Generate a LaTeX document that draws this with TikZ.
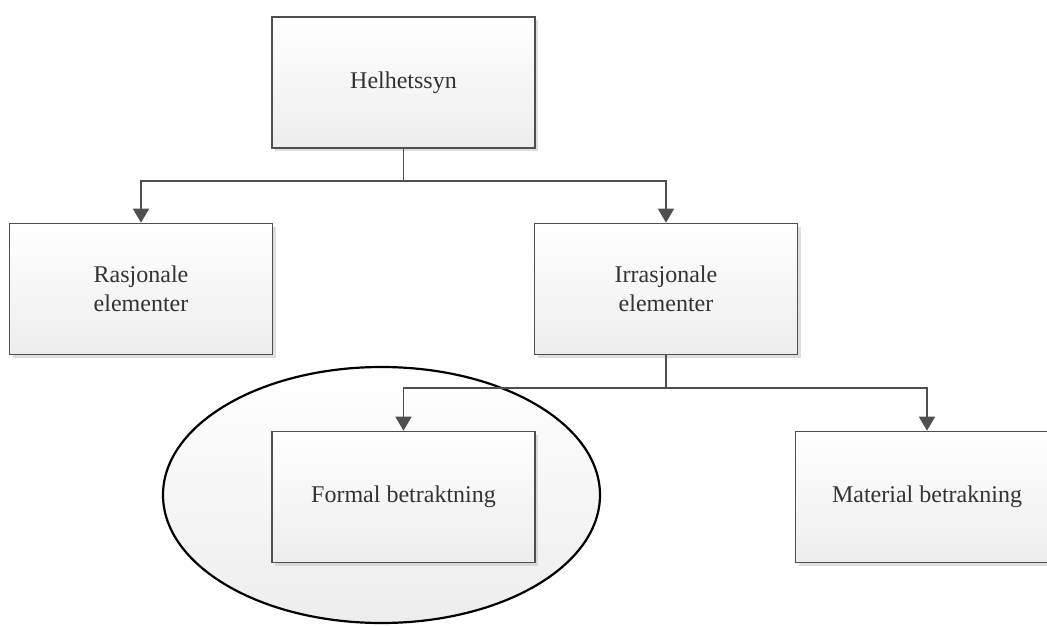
\documentclass[tikz,border=0pt]{standalone}
\usepackage{fontspec}
\setmainfont{Liberation Serif}
\usetikzlibrary{shadows,arrows.meta}
\definecolor{edge}{HTML}{4F4F4F}
\definecolor{boxbot}{HTML}{EDEDED}
\definecolor{shade}{HTML}{C8C8C8}
\tikzset{
  box/.style={draw=edge, line width=1.6pt, top color=white, bottom color=boxbot,
    minimum width=263pt, minimum height=131pt, inner sep=0pt, align=center,
    font=\fontsize{24}{29}\selectfont, text=black!80,
    drop shadow={shadow xshift=3pt, shadow yshift=-3pt, fill=shade, opacity=0.6}},
  conn/.style={draw=edge, line width=1.6pt},
  arr/.style={conn, -{Triangle[length=14pt, width=16pt]}},
  ring/.style={draw=black, line width=2.2pt, top color=white, bottom color=boxbot},
}
\begin{document}
\begin{tikzpicture}[x=1pt, y=-1pt]
\useasboundingbox (0,0) rectangle (1047,626);
\path[ring] (381.5,495) ellipse [x radius=218.5, y radius=128];
\node[box] (top) at (403.5,82.5) {Helhetssyn};
\node[box] (ras) at (141,289) {Rasjonale\\elementer};
\node[box] (irr) at (666,289) {Irrasjonale\\elementer};
\node[box] (form) at (403.5,497) {Formal betraktning};
\node[box] (mat) at (927,497) {Material betrakning};
\coordinate (j1) at (403.5,181);
\coordinate (j2) at (666,388);
\draw[conn] (top.south) -- (j1);
\draw[arr] (j1) -| (ras.north);
\draw[arr] (j1) -| (irr.north);
\draw[conn] (irr.south) -- (j2);
\draw[arr] (j2) -| (form.north);
\draw[arr] (j2) -| (mat.north);
\end{tikzpicture}
\end{document}
